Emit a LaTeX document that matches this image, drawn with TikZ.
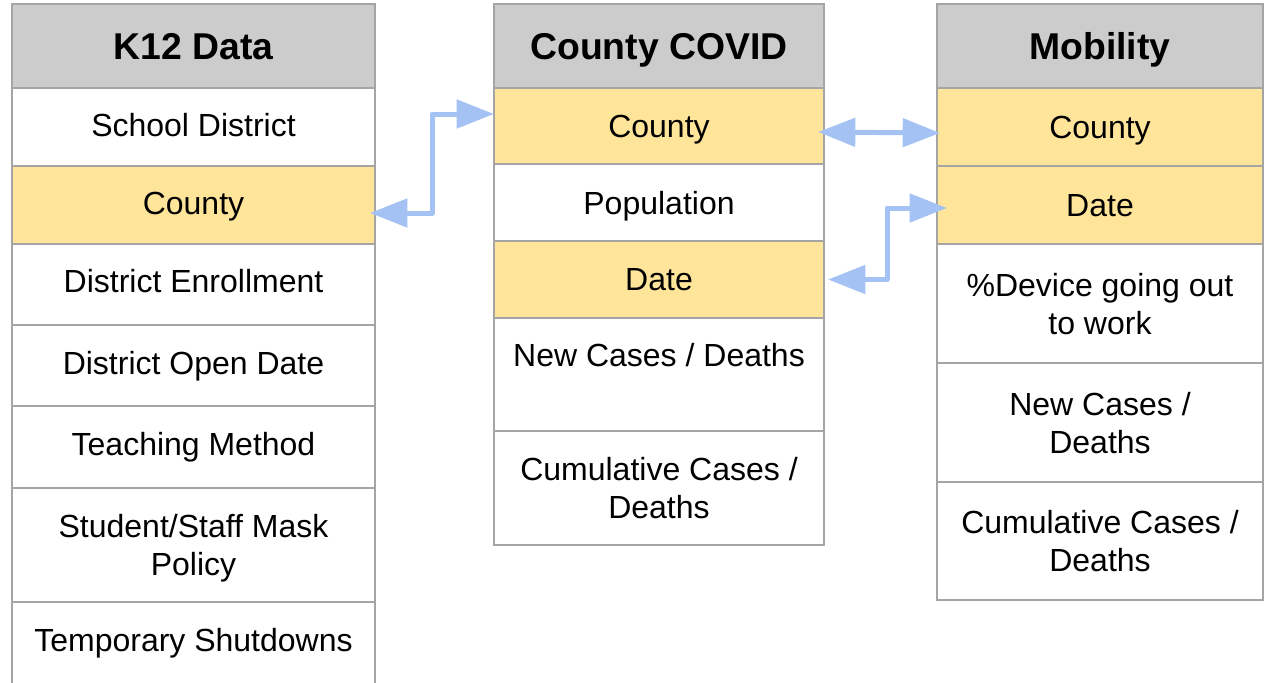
\documentclass[tikz,border=0pt]{standalone}
\usepackage{fontspec}
\setmainfont{Liberation Sans}
\usetikzlibrary{arrows.meta}
\definecolor{hdrgray}{HTML}{CCCCCC}
\definecolor{bordergray}{HTML}{A5A5A5}
\definecolor{keyyellow}{HTML}{FFE599}
\definecolor{arrowblue}{HTML}{A4C2F4}
\tikzset{
  cell/.style={draw=bordergray, line width=1.5pt, inner sep=0pt, outer sep=0pt, align=center,
    text depth=0pt, font=\fontsize{24pt}{28.5pt}\selectfont},
  hdr/.style={cell, fill=hdrgray, font=\fontsize{28pt}{33pt}\selectfont\bfseries},
  key/.style={cell, fill=keyyellow},
  wK/.style={minimum width=363*0.75pt},
  wC/.style={minimum width=330*0.75pt},
  wM/.style={minimum width=326*0.75pt},
  link/.style={draw=arrowblue, line width=3.75pt, line join=round,
    {Triangle[length=28pt,width=21pt]}-{Triangle[length=28pt,width=21pt]}}
}
\begin{document}
\begin{tikzpicture}[x=0.75pt,y=-0.75pt]
\useasboundingbox (0,0) rectangle (1264,682);
% K12 Data
\node[hdr,wK,minimum height=84*0.75pt] (k0) at (193.5,46) {K12 Data};
\node[cell,wK,minimum height=78*0.75pt,text depth=3pt] (k1) at (193.5,127) {School District};
\node[key,wK,minimum height=78*0.75pt,text depth=3pt] (k2) at (193.5,205) {County};
\node[cell,wK,minimum height=81*0.75pt,text depth=5pt] (k3) at (193.5,284.5) {District Enrollment};
\node[cell,wK,minimum height=81*0.75pt,text depth=4.5pt] (k4) at (193.5,365.5) {District Open Date};
\node[cell,wK,minimum height=82*0.75pt,text depth=4.5pt] (k5) at (193.5,447) {Teaching Method};
\node[cell,wK,minimum height=114*0.75pt] (k6) at (193.5,545) {Student/Staff Mask\\Policy};
\node[cell,wK,minimum height=90*0.75pt,text depth=10.5pt] (k7) at (193.5,647) {Temporary Shutdowns};
% County COVID
\node[hdr,wC,minimum height=84*0.75pt] (c0) at (659,46) {County COVID};
\node[key,wC,minimum height=76*0.75pt] (c1) at (659,126) {County};
\node[cell,wC,minimum height=77*0.75pt] (c2) at (659,202.5) {Population};
\node[key,wC,minimum height=77*0.75pt] (c3) at (659,279.5) {Date};
\node[cell,wC,minimum height=113*0.75pt,text depth=29pt] (c4) at (659,374.5) {New Cases / Deaths};
\node[cell,wC,minimum height=114*0.75pt] (c5) at (659,488) {Cumulative Cases /\\Deaths};
% Mobility
\node[hdr,wM,minimum height=84*0.75pt] (m0) at (1100,46) {Mobility};
\node[key,wM,minimum height=78*0.75pt] (m1) at (1100,127) {County};
\node[key,wM,minimum height=78*0.75pt] (m2) at (1100,205) {Date};
\node[cell,wM,minimum height=119*0.75pt] (m3) at (1100,303.5) {\%Device going out\\to work};
\node[cell,wM,minimum height=119*0.75pt] (m4) at (1100,422.5) {New Cases /\\Deaths};
\node[cell,wM,minimum height=118*0.75pt] (m5) at (1100,541) {Cumulative Cases /\\Deaths};
% links
\draw[link] ([xshift=-3.75pt,yshift=-6pt]k2.east) -- ++(62,0) |- ([yshift=9pt]c1.west);
\draw[link] ([xshift=-4.5pt,yshift=-4.5pt]c1.east) -- ([xshift=2.25pt,yshift=-4.5pt]m1.west);
\draw[link] ([xshift=7.5pt,yshift=-2.25pt]m2.west) -- ++(-60,0) |- ([xshift=3pt]c3.east);
\end{tikzpicture}
\end{document}
